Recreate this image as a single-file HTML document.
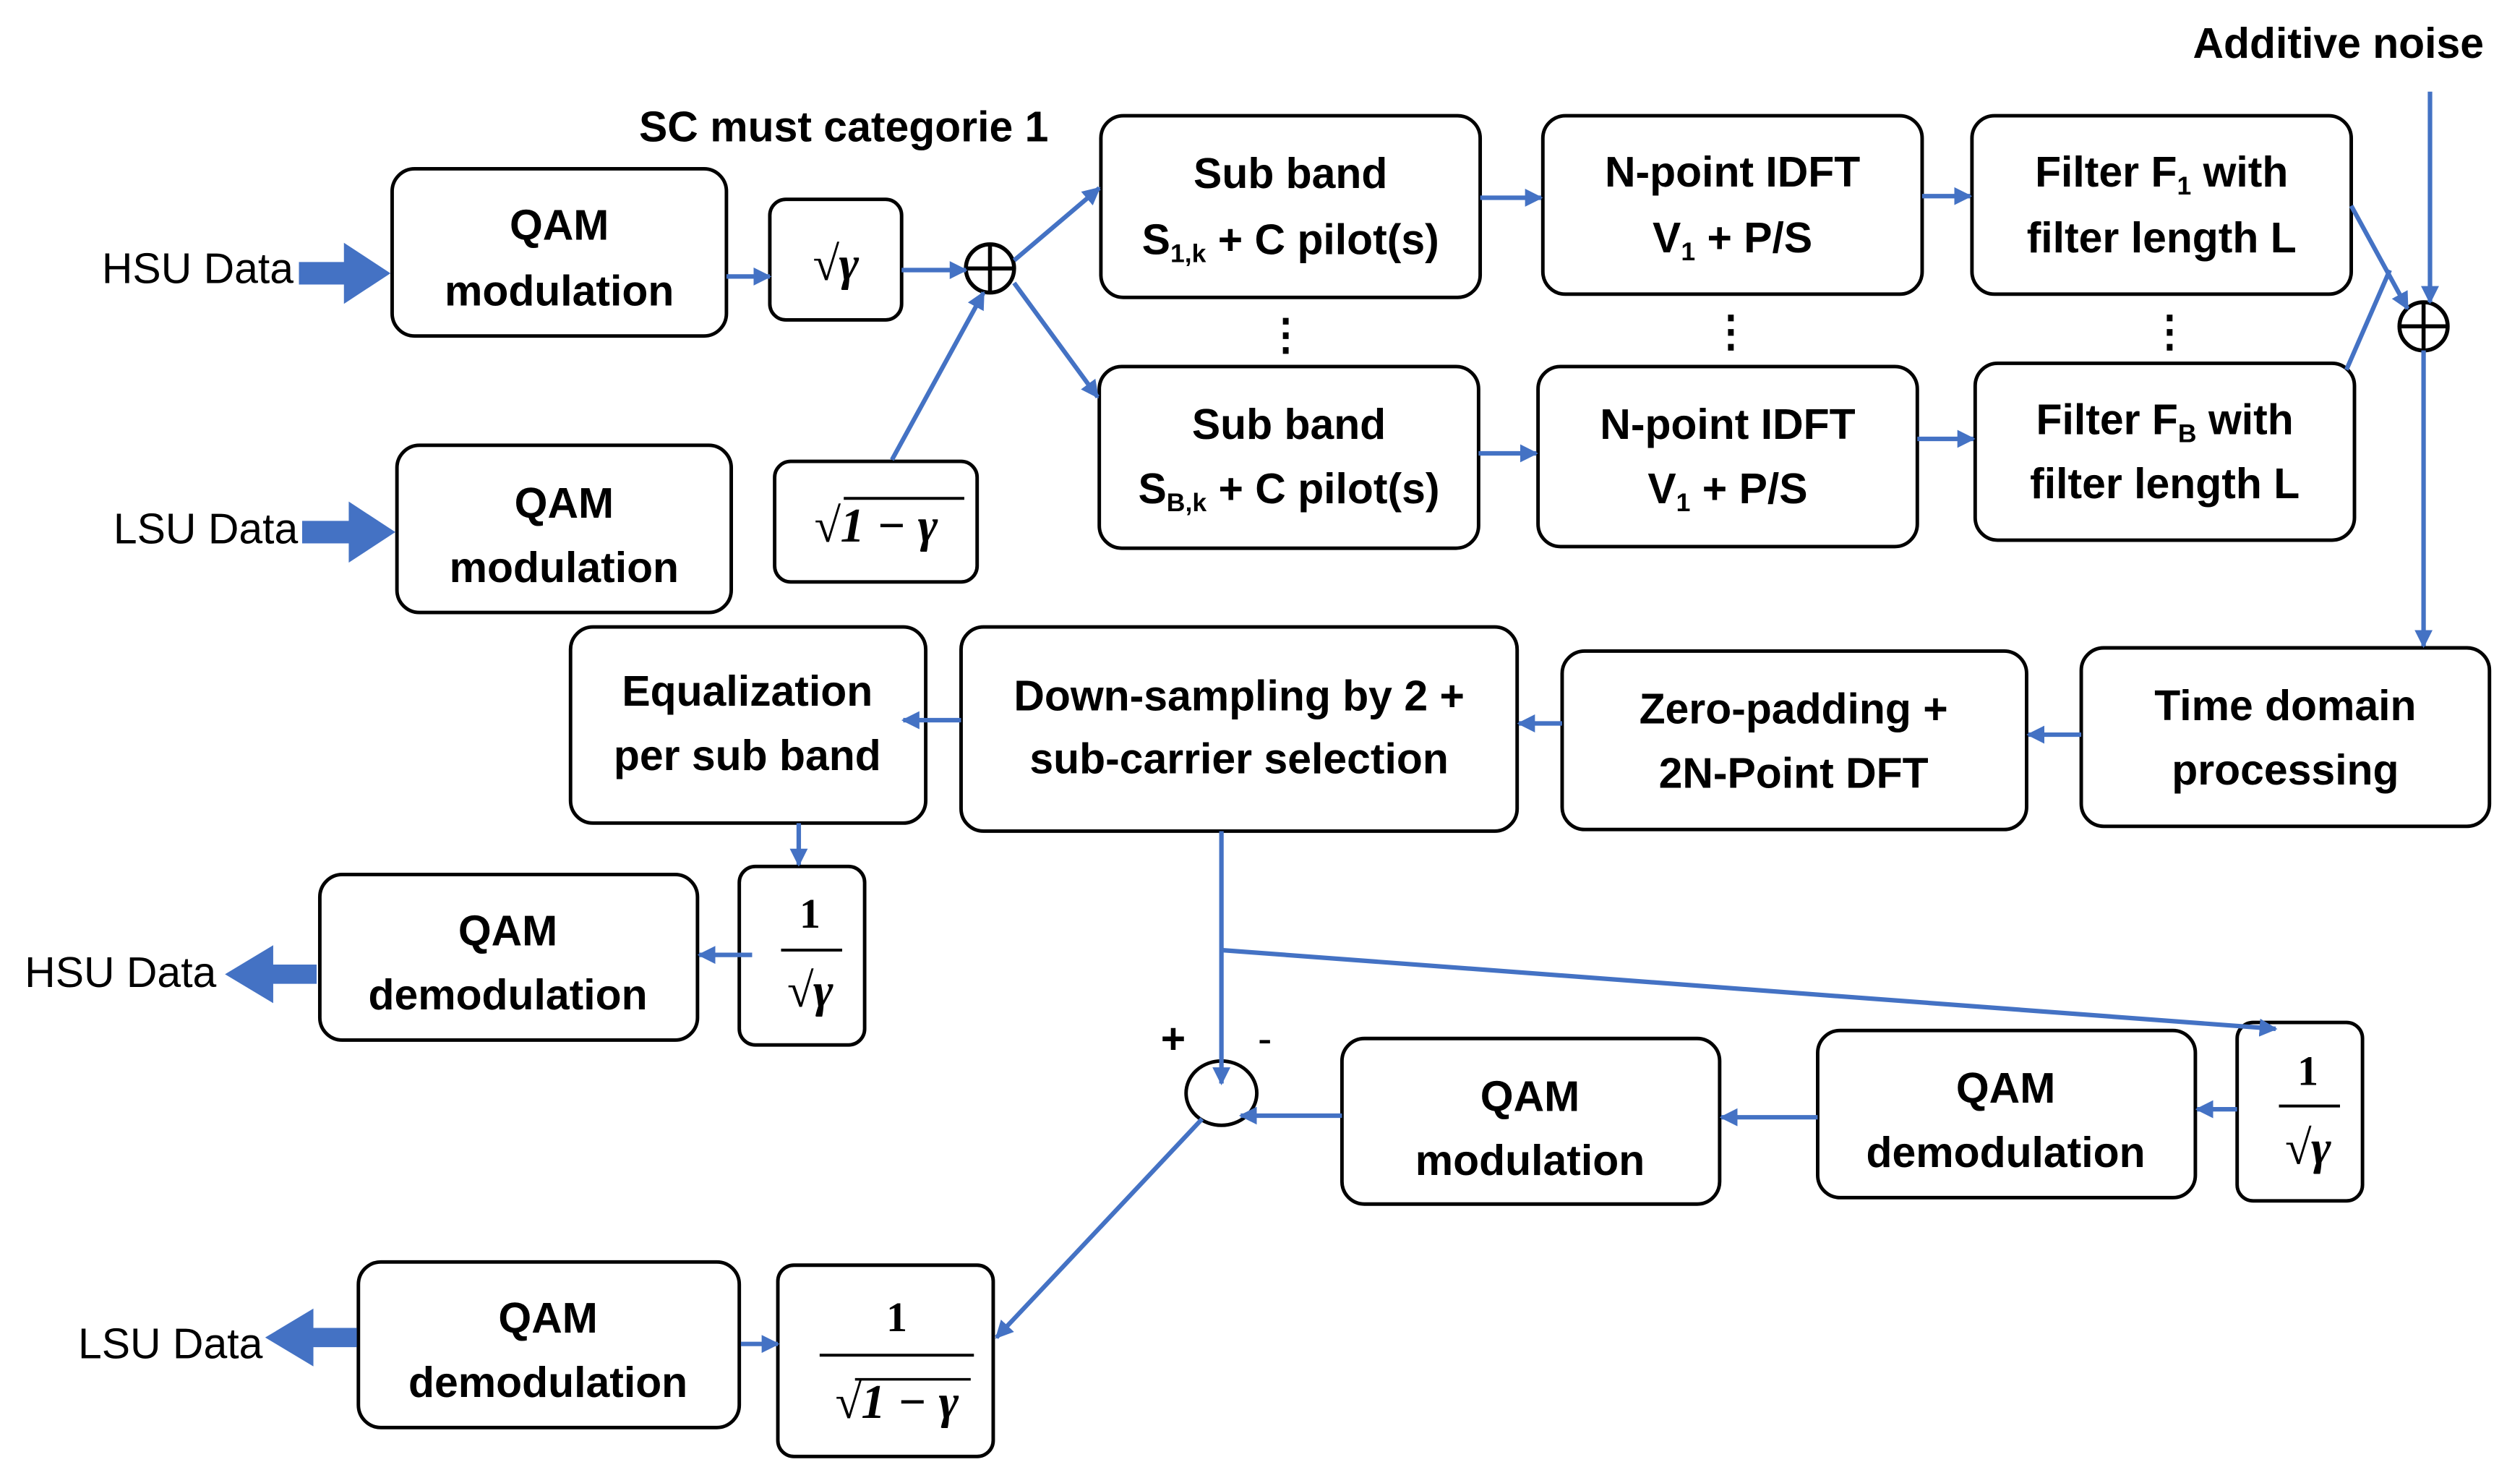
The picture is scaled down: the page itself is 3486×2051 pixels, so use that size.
<!DOCTYPE html>
<html><head><meta charset="utf-8"><style>html,body{margin:0;padding:0;background:#fff}svg{display:block}</style></head>
<body>
<svg width="3486" height="2051" viewBox="0 0 1568 922.5" preserveAspectRatio="none" xmlns="http://www.w3.org/2000/svg">
<defs>
<marker id="a" viewBox="0 0 10 10" refX="9" refY="5" markerWidth="4" markerHeight="4" orient="auto"><path d="M0,0L10,5L0,10z" fill="#4472C4"/></marker>
</defs>
<style>
rect{fill:#fff;stroke:#000;stroke-width:2.2}
.l{stroke:#4472C4;stroke-width:2.8;fill:none;marker-end:url(#a)}
.n{stroke:#4472C4;stroke-width:2.8;fill:none}
.tp{fill:#4472C4}
text{font-family:"Liberation Sans",sans-serif;font-weight:bold;font-size:26.5px;text-anchor:middle}
.r{font-weight:normal}
.m{font-family:"Liberation Serif",serif;font-style:italic;font-size:30px}
.f{font-family:"Liberation Serif",serif;font-size:26px}
</style>
<rect x="244" y="105" width="208" height="104" rx="14"/>
<text x="348" y="149">QAM</text><text x="348" y="190">modulation</text>
<rect x="479" y="124" width="82" height="75" rx="10"/>
<text x="520" y="174" class="m">√γ</text>
<circle cx="616" cy="167" r="15" fill="#fff" stroke="#000" stroke-width="2.5"/>
<path d="M601,167H631M616,152V182" stroke="#000" stroke-width="2.5"/>
<rect x="247" y="277" width="208" height="104" rx="14"/>
<text x="351" y="322">QAM</text><text x="351" y="362">modulation</text>
<rect x="482" y="287" width="126" height="75" rx="10"/>
<text x="545" y="337" class="m">√1 − γ</text>
<path d="M525,310H600" stroke="#000" stroke-width="1.8"/>
<text x="525" y="88">SC must categorie 1</text>

<rect x="685" y="72" width="236" height="113" rx="14"/>
<text x="803" y="117">Sub band</text><text x="803" y="158">S<tspan font-size="16" dy="5">1,k</tspan><tspan dy="-5"> + C pilot(s)</tspan></text>
<rect x="684" y="228" width="236" height="113" rx="14"/>
<text x="802" y="273">Sub band</text><text x="802" y="313">S<tspan font-size="16" dy="5">B,k</tspan><tspan dy="-5"> + C pilot(s)</tspan></text>
<rect x="960" y="72" width="236" height="111" rx="14"/>
<text x="1078" y="116">N-point IDFT</text><text x="1078" y="157">V<tspan font-size="16" dy="5">1</tspan><tspan dy="-5"> + P/S</tspan></text>
<rect x="957" y="228" width="236" height="112" rx="14"/>
<text x="1075" y="273">N-point IDFT</text><text x="1075" y="313">V<tspan font-size="16" dy="5">1</tspan><tspan dy="-5"> + P/S</tspan></text>
<rect x="1227" y="72" width="236" height="111" rx="14"/>
<text x="1345" y="116">Filter F<tspan font-size="16" dy="5">1</tspan><tspan dy="-5"> with</tspan></text><text x="1345" y="157">filter length L</text>
<rect x="1229" y="226" width="236" height="110" rx="14"/>
<text x="1347" y="270">Filter F<tspan font-size="16" dy="5">B</tspan><tspan dy="-5"> with</tspan></text><text x="1347" y="310">filter length L</text>
<text x="800" y="217">⋮</text><text x="1077" y="215">⋮</text><text x="1350" y="215">⋮</text>
<circle cx="1508" cy="203" r="15" fill="#fff" stroke="#000" stroke-width="2.5"/>
<path d="M1493,203H1523M1508,188V218" stroke="#000" stroke-width="2.5"/>
<text x="1455" y="36">Additive noise</text>

<rect x="1295" y="403" width="254" height="111" rx="14"/>
<text x="1422" y="448">Time domain</text><text x="1422" y="488">processing</text>
<rect x="972" y="405" width="289" height="111" rx="14"/>
<text x="1116" y="450">Zero-padding +</text><text x="1116" y="490">2N-Point DFT</text>
<rect x="598" y="390" width="346" height="127" rx="14"/>
<text x="771" y="442">Down-sampling by 2 +</text><text x="771" y="481">sub-carrier selection</text>
<rect x="355" y="390" width="221" height="122" rx="14"/>
<text x="465" y="439">Equalization</text><text x="465" y="479">per sub band</text>
<rect x="460" y="539" width="78" height="111" rx="10"/>
<text x="504" y="577" class="f" font-weight="bold">1</text><path d="M486,591H524" stroke="#000" stroke-width="1.8"/><text x="504" y="626" class="m">√γ</text>
<rect x="199" y="544" width="235" height="103" rx="14"/>
<text x="316" y="588">QAM</text><text x="316" y="628">demodulation</text>
<text x="75" y="614" class="r">HSU Data</text>

<ellipse cx="760" cy="680" rx="22" ry="20" fill="#fff" stroke="#000" stroke-width="2.2"/>
<text x="730" y="655" font-size="30">+</text><text x="787" y="655" class="r">-</text>
<rect x="835" y="646" width="235" height="103" rx="14"/>
<text x="952" y="691">QAM</text><text x="952" y="731">modulation</text>
<rect x="1131" y="641" width="235" height="104" rx="14"/>
<text x="1248" y="686">QAM</text><text x="1248" y="726">demodulation</text>
<rect x="1392" y="636" width="78" height="111" rx="10"/>
<text x="1436" y="675" class="f" font-weight="bold">1</text><path d="M1418,688H1456" stroke="#000" stroke-width="1.8"/><text x="1436" y="724" class="m">√γ</text>

<rect x="223" y="785" width="237" height="103" rx="14"/>
<text x="341" y="829">QAM</text><text x="341" y="869">demodulation</text>
<rect x="484" y="787" width="134" height="119" rx="10"/>
<text x="558" y="828" class="f" font-weight="bold">1</text><path d="M510,843H606" stroke="#000" stroke-width="1.8"/><text x="558" y="882" class="m">√1 − γ</text>
<path d="M532,858H604" stroke="#000" stroke-width="1.6"/>

<text x="123" y="176" class="r">HSU Data</text>
<text x="128" y="338" class="r">LSU Data</text>
<text x="106" y="845" class="r">LSU Data</text>

<path class="tp" d="M186,163H214V151L243,170L214,189V177H186z"/>
<path class="tp" d="M188,324H217V312L246,331L217,350V338H188z"/>
<path class="tp" d="M197,600H170V588L140,606L170,624V612H197z"/>
<path class="tp" d="M222,826H195V814L165,832L195,850V838H222z"/>
<path class="l" d="M452,172H479"/>
<path class="l" d="M561,168H601"/>
<path class="l" d="M555,286L612,182"/>
<path class="l" d="M631,162L684,117"/>
<path class="l" d="M631,176L683,247"/>
<path class="l" d="M921,123H959"/>
<path class="l" d="M920,282H956"/>
<path class="l" d="M1196,122H1226"/>
<path class="l" d="M1193,273H1228"/>
<path class="l" d="M1463,128L1498,192"/>
<path class="n" d="M1460,230L1487,168"/>
<path class="l" d="M1512,57V188"/>
<path class="l" d="M1508,218V402"/>
<path class="l" d="M1295,457H1262"/>
<path class="l" d="M972,450H945"/>
<path class="l" d="M598,448H562"/>
<path class="l" d="M497,512V538"/>
<path class="l" d="M468,594H435"/>
<path class="n" d="M760,517V591"/>
<path class="l" d="M760,591L1416,640"/>
<path class="l" d="M760,591V674"/>
<path class="l" d="M835,694H772"/>
<path class="l" d="M1131,695H1071"/>
<path class="l" d="M1392,690H1367"/>
<path class="l" d="M748,696L620,832"/>
<path class="l" d="M461,836H484"/>
</svg>
</body></html>
